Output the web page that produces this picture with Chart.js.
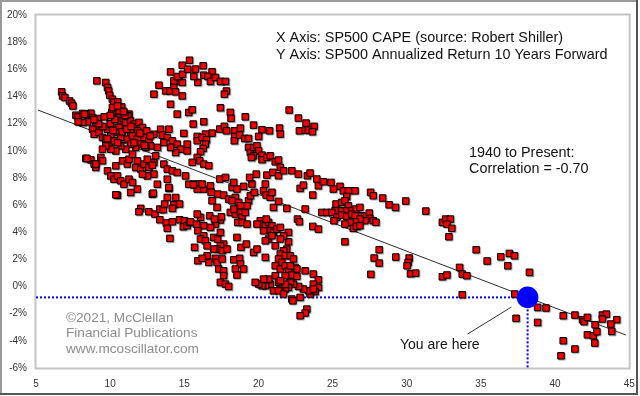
<!DOCTYPE html>
<html>
<head>
<meta charset="utf-8">
<script src="https://cdn.jsdelivr.net/npm/chart.js@4/dist/chart.umd.min.js"></script>
<style>
  html, body { margin: 0; padding: 0; background: #fff; }
  #wrap { width: 640px; height: 396px; }
</style>
</head>
<body>
<div id="wrap"><canvas id="capeChart" width="640" height="396"></canvas></div>
<script>
// CAPE (x) vs annualized 10-year forward return in % (y)
const lowCapePoints = [
  [6.73,14.34],[6.79,14.04],[6.95,13.92],[7.26,13.67],[7.4,13.5],[7.49,13.3],[7.69,12.62],[7.84,12.5],[8.14,12.75],
  [8.47,12.7],[8.7,12.77],[8.81,12.45],[8.47,12.13],[8.14,12.09],[7.84,12.13],[8.36,12.72],[8.25,12.7],
  [9.1,15.15],[9.7,15.03],[9.82,14.66],[9.9,14.41],[9.97,14.09],[10.15,13.8],[10.24,13.58],[10.51,13.6],[10.78,13.23],
  [10.11,12.82],[10.6,12.94],[10.93,12.82],[11.27,12.7],[10.15,13.19],[10.49,13.31],
  [9.15,12.38],[9.03,11.83],[8.81,11.59],[8.92,11.22],[9.25,11.35],[9.48,10.98],[9.82,11.59],[10.15,11.72],[10.6,12.45],
  [10.71,12.2],[10.89,12.38],[11.05,12.09],[11.2,12.57],[11.38,12.2],[11.6,11.96],[11.94,12.09],[12.17,11.72],[12.46,11.47],
  [11.83,11.47],[11.38,11.35],[10.93,11.59],[10.6,11.72],[10.38,11.35],[10.04,11.1],[9.7,10.86],[9.93,10.49],[10.26,10.73],
  [10.71,10.98],[11.16,10.86],[11.5,11.1],[11.83,10.86],[12.28,10.98],[12.61,10.73],[12.95,11.22],[13.4,11.59],[13.96,11.59],
  [13.51,11.15],[13.85,10.98],[14.19,10.73],[14.52,10.49],[14.97,11.28],[15.19,10.49],[14.74,10.12],[14.41,9.88],[15.19,9.99],
  [14.07,10.25],[13.62,10.61],[13.18,10.25],[12.73,10.36],[12.39,10.25],[12.06,10.49],[11.72,10.25],[11.38,10.49],[11.05,10.12],
  [10.71,10.36],[10.38,9.99],[10.04,10.12],[9.7,10.36],[9.48,10.12],
  [9.5,11.8],[10.0,12.0],[10.3,12.3],[10.8,11.4],[11.1,11.6],[11.6,10.6],[12.3,10.4],[10.5,10.6],[9.8,10.9],[11.0,12.6],
  [10.2,11.5],[12.7,11.1],[12.0,11.3],[11.4,11.8],[9.2,12.0],[8.9,12.3],[9.6,12.5],[10.9,12.9],[10.0,12.6],
  [8.36,9.44],[8.7,9.33],[8.92,9.02],[9.03,8.77],[9.37,9.51],[9.48,9.26],[9.82,8.52],[10.04,8.15],[10.26,7.91],[10.49,8.15],
  [10.71,7.79],[10.93,7.54],[11.27,7.91],[11.5,7.67],[11.83,7.18],[11.38,6.93],[10.49,6.73],[10.38,8.89],[10.83,9.26],
  [11.16,9.02],[11.27,9.38],[11.5,9.75],[11.83,9.26],[11.72,8.77],[12.06,8.65],[12.28,9.02],[12.5,9.38],[12.61,8.77],
  [12.95,8.28],[12.95,9.14],[13.06,9.63],[12.5,8.15],[12.17,8.28],[12.84,6.81],[13.18,7.54],[8.43,9.44],[9.03,9.02],
  [10.38,6.76],[12.91,6.88],[13.96,7.23],[12.84,8.94],
  [13.29,14.83],[13.74,14.41],[14.02,14.41],[14.29,14.78],[14.41,14.34],[14.63,15.15],[14.86,15.03],[14.86,14.04],
  [12.95,14.17],[14.07,13.43],[14.52,12.7],[15.3,12.82],[13.62,9.02],[13.85,8.65],[14.19,8.52],[14.52,8.4],[13.85,7.91],
  [15.08,8.15],[15.3,7.54],[13.96,7.3],[13.85,6.56],[14.41,6.56],
  [12.06,5.76],[11.94,5.51],[12.61,5.51],[13.02,5.34],[13.35,5.71],[13.58,5.66],[13.67,6.08],[14.29,6.02],[14.68,6.08],
  [14.19,5.76],[13.35,4.92],[13.78,4.68],[14.19,4.77],[13.85,4.29],[14.03,3.55],[14.68,4.92],[15.01,4.85],[14.93,4.4],
  [15.19,4.48],[15.35,4.73],
  [14.07,15.81],[14.29,15.15],[14.52,15.47],[14.88,15.64],[14.86,16.3],[15.35,16.67],[15.23,16.01]
];

const midCapePoints = [
  [16.27,16.26],[15.75,16.02],[16.31,15.57],[16.87,15.82],[16.58,15.48],[16.76,15.11],[17.1,15.4],[17.43,15.11],[17.77,15.11],
  [17.84,14.4],[17.7,14.17],[15.91,15.04],[15.64,15.48],[17.43,13.17],[18.1,12.83],[18.15,12.39],[15.53,13.02],[16.31,12.14],
  [15.6,11.97],[19.11,12.5],[19.67,11.89],[20.24,11.55],[20.75,11.47],[20.01,11.06],[21.42,11.67],[21.47,11.23],[22.07,13.0],
  [22.69,12.41],[23.21,12.04],[23.75,11.8],[22.76,11.47],[23.15,11.52],[23.37,11.52],[23.64,11.4],[17.39,11.6],[17.7,11.8],
  [17.84,11.47],[18.37,11.47],[18.78,11.67],[18.39,11.06],[18.37,10.74],[18.73,11.16],[19.07,10.91],[19.33,10.91],[16.87,11.3],
  [15.87,11.06],[15.87,10.74],[16.42,11.23],[16.2,10.99],[16.49,10.81],[16.42,10.49],[16.27,10.18],[16.09,9.93],[15.87,9.51],
  [16.04,9.26],[16.31,9.02],[16.65,8.9],[15.53,9.15],[19.33,10.25],[19.45,9.88],[19.67,10.25],[19.9,10.37],[20.01,10.0],
  [19.67,9.63],[19.52,9.51],[20.24,9.68],[20.24,9.34],[20.57,9.51],[20.79,9.63],[21.13,9.19],[21.35,9.32],[21.47,8.78],[23.3,8.16],
  [15.64,7.55],[15.97,7.55],[15.87,7.18],[16.31,7.18],[16.2,7.55],[16.76,7.42],[16.81,6.94],[16.87,6.32],[17.21,5.83],
  [17.25,6.81],[17.65,6.74],[17.39,7.92],[17.77,8.04],[18.22,7.3],[18.33,7.67],[18.55,7.18],[19.0,7.38],[17.99,6.44],
  [18.44,6.57],[18.22,6.32],[18.66,6.2],[18.78,5.95],[19.33,6.32],[19.45,6.69],[19.72,6.94],[19.56,7.55],[19.4,8.04],
  [19.85,8.28],[20.46,7.55],[20.34,7.05],[20.52,6.74],[20.79,6.57],[20.91,6.94],[21.35,6.27],[21.01,5.83],[21.91,5.76],
  [20.57,8.21],[20.97,8.41],[21.35,8.16],[21.69,8.53],[22.25,8.53],[22.69,8.28],[23.48,8.36],[22.81,7.23],[23.03,7.47],
  [23.66,6.74],[23.15,5.71],[23.93,7.92],[24.04,7.42],[24.38,7.72],[24.27,5.46],[24.6,5.46],[22.63,4.97],[22.76,4.77],
  [23.66,4.43],[24.04,4.23],
  [15.6,7.5],[15.42,4.77],[15.82,4.6],[16.31,4.48],[15.91,4.11],[16.31,3.74],[16.09,3.5],[16.42,3.37],[16.98,3.62],
  [17.25,3.5],[17.65,3.13],[17.43,3.0],[17.21,2.76],[16.98,2.76],[17.55,2.64],[17.88,2.76],[15.69,2.89],[15.91,1.9],
  [16.54,2.27],[16.65,1.78],[17.1,2.08],[17.21,1.78],[17.55,2.03],[17.32,1.29],[17.65,1.16],[17.65,0.8],[17.43,0.31],
  [17.77,0.18],[17.99,0.01],[18.33,1.97],[18.73,2.08],[18.78,1.66],[18.44,1.29],[18.55,0.85],[19.0,1.29],[18.55,3.62],
  [18.82,2.89],[19.18,3.13],[17.43,4.9],[17.5,5.14],[18.1,5.46],[18.44,5.34],[18.78,5.46],[18.89,5.1],[19.11,5.46],
  [19.23,5.95],[17.1,4.6],[16.76,4.36],[16.71,5.21],[17.03,4.97],
  [20.12,4.85],[20.24,4.6],[20.46,4.48],[20.68,4.73],[20.91,4.48],[20.79,4.11],[21.01,3.99],[21.24,4.23],[21.47,4.36],
  [20.68,3.5],[20.91,3.74],[20.52,4.97],[19.9,4.6],[22.02,3.3],[21.91,2.76],[21.69,2.64],[21.47,2.39],[21.8,2.27],
  [22.14,2.27],[21.35,2.03],[21.58,1.78],[21.13,1.53],[21.47,1.29],[21.8,1.53],[22.02,1.16],[22.47,1.41],[22.59,1.29],
  [22.25,0.85],[22.59,0.75],[23.15,1.16],[23.7,0.92],[24.04,0.5],[23.7,0.18],[24.04,-0.06],[23.82,-0.38],[23.48,-0.55],
  [23.37,-0.31],[23.03,-0.18],[22.7,0.01],[22.36,0.18],[22.14,0.31],[22.02,-0.06],[21.8,-0.18],[21.47,0.06],[21.35,0.31],
  [21.13,0.8],[20.79,0.18],[20.46,0.06],[20.24,0.06],[20.01,0.18],[19.78,0.31],[21.01,-0.31],[21.35,-0.31],[21.69,-0.55],
  [22.25,-0.92],[22.81,-0.8],[22.32,-1.05],[23.26,-1.66],[23.15,-1.95],[22.81,-2.15],
  [16.54,3.0],[16.2,2.08],[17.43,3.99],[16.09,5.1],[15.87,5.34],[18.33,5.71],[18.6,4.73],[18.89,4.73],[19.23,4.6],
  [21.8,0.18],[23.7,-0.18],[22.14,1.53],[22.36,2.03],[21.13,3.0],[22.02,3.99],[21.69,3.74],[21.47,3.5],[20.34,4.11],
  [20.46,3.37],[19.67,2.52],[19.9,2.76],[20.46,2.15],[21.8,0.8],[21.47,0.43],[20.68,0.55],[20.34,0.55]
];

const highCapePoints = [
  [24.89,7.67],[25.05,7.18],[25.5,7.38],[25.72,7.05],[26.06,7.05],[26.51,7.05],[25.95,6.64],[25.23,6.08],[25.61,6.2],
  [25.83,6.32],[26.06,5.95],[26.22,5.58],[26.57,5.71],[26.84,5.83],[25.83,5.58],[25.5,5.58],[25.16,5.58],[24.94,5.46],
  [25.28,5.1],[25.61,5.27],[25.95,5.17],[26.28,5.34],[26.51,5.21],[26.96,5.21],[27.18,5.17],[27.47,5.41],[27.51,5.02],
  [27.18,4.85],[26.84,4.97],[26.51,4.77],[26.17,4.73],[26.39,4.29],[26.61,4.43],[26.84,4.48],[25.83,4.6],[25.09,4.85],
  [27.74,4.85],[27.92,4.73],[27.56,6.94],[27.74,6.69],[28.37,6.52],[28.81,6.02],[29.24,5.83],[29.93,6.3],[31.28,5.56],
  [32.4,4.73],[32.62,4.97],[32.94,4.97],[32.71,4.6],[33.04,4.29],[32.84,3.67],[25.83,3.3],[28.14,2.71],[27.8,2.1],
  [28.14,1.73],[29.26,2.17],[30.16,2.1],[30.09,1.78],[30.02,1.53],[27.58,0.9],[30.25,0.94],[30.6,0.99],[32.4,0.72],
  [32.71,0.85],[33.56,1.41],[33.74,0.92],[34.05,0.8],[34.68,2.71],[35.42,1.88],
  [36.34,2.19],[36.92,2.44],[37.26,2.27],[36.81,1.53],[38.27,1.05],[33.74,-0.6],[37.28,-0.55],[37.37,-2.34],[38.82,-1.53],
  [39.39,-1.58],[38.82,-2.64],[40.55,-2.15],[41.34,-2.1],[41.85,-2.44],[41.96,-2.59],[42.18,-2.27],[42.7,-2.81],[43.19,-2.1],
  [43.46,-2.03],[43.19,-2.39],[44.16,-2.44],[43.76,-2.76],[43.82,-3.3],[42.18,-3.55],[42.57,-3.62],[42.82,-3.33],
  [42.68,-4.16],[40.55,-3.99],[41.34,-4.6],[40.4,-5.1]
];

// regression line, current reading and "you are here" pointer
const fitLineEnds = [[5.13, 13.0], [44.77, -3.57]];
const currentCape = 38.15;
const currentReturn = -0.8;
const pointerEnds = [[34.1, -3.5], [37.06, -1.51]];

const xTickValues = [5, 10, 15, 20, 25, 30, 35, 40, 45];
const yTickValues = [-6, -4, -2, 0, 2, 4, 6, 8, 10, 12, 14, 16, 18, 20];

const FONT = '"Liberation Sans", Arial, sans-serif';

const toXY = function(list) {
  return list.map(function(p) { return { x: p[0], y: p[1] }; });
};

var redSquares = {
  data: toXY(lowCapePoints.concat(midCapePoints, highCapePoints)),
  pointStyle: 'rect',
  pointRadius: 4.6,
  backgroundColor: '#ff0000',
  borderColor: '#000000',
  borderWidth: 1,
  showLine: false,
  order: 2,
  shadow: true
};

var plainLine = function(pts, color, width, dash, order) {
  return {
    data: toXY(pts),
    showLine: true,
    borderColor: color,
    borderWidth: width,
    borderDash: dash,
    pointRadius: 0,
    fill: false,
    order: order
  };
};

// Draws the frame, plot border, shadows and free text
var decorations = {
  id: 'decorations',
  beforeDraw: function(chart) {
    var ctx = chart.ctx;
    ctx.save();
    ctx.fillStyle = '#ffffff';
    ctx.fillRect(0, 0, chart.width, chart.height);
    ctx.restore();
  },
  beforeDatasetsDraw: function(chart) {
    var ctx = chart.ctx;
    var a = chart.chartArea;
    ctx.save();
    ctx.strokeStyle = '#c4c4c4';
    ctx.lineWidth = 2;
    ctx.strokeRect(a.left - 0.5, a.top - 0.5, a.right - a.left + 1, a.bottom - a.top + 1);
    ctx.restore();
  },
  beforeDatasetDraw: function(chart, args) {
    if (chart.data.datasets[args.index].shadow) {
      var ctx = chart.ctx;
      ctx.save();
      ctx.shadowColor = 'rgba(0, 0, 0, 0.3)';
      ctx.shadowOffsetX = 1;
      ctx.shadowOffsetY = 1;
      ctx.shadowBlur = 1;
    }
  },
  afterDatasetDraw: function(chart, args) {
    if (chart.data.datasets[args.index].shadow) {
      chart.ctx.restore();
    }
  },
  afterDraw: function(chart) {
    var ctx = chart.ctx;
    ctx.save();

    // outer frame
    ctx.lineWidth = 2;
    ctx.strokeStyle = '#9a9a9a';
    ctx.beginPath();
    ctx.moveTo(0, 1); ctx.lineTo(638, 1);
    ctx.moveTo(1, 0); ctx.lineTo(1, 395);
    ctx.stroke();
    ctx.strokeStyle = '#555555';
    ctx.beginPath();
    ctx.moveTo(637, 0); ctx.lineTo(637, 395);
    ctx.moveTo(0, 394); ctx.lineTo(638, 394);
    ctx.stroke();

    ctx.font = '14.4px ' + FONT;
    ctx.textAlign = 'left';
    ctx.textBaseline = 'alphabetic';
    ctx.fillStyle = '#111111';
    ctx.fillText('X Axis: SP500 CAPE (source: Robert Shiller)', 276, 42);
    ctx.fillText('Y Axis: SP500 Annualized Return 10 Years Forward', 276, 58.5);
    ctx.fillText('1940 to Present:', 469, 156.5);
    ctx.fillText('Correlation = -0.70', 469, 172.5);
    ctx.font = '14px ' + FONT;
    ctx.fillText('You are here', 400, 349);

    ctx.font = '13.6px ' + FONT;
    ctx.fillStyle = '#8c8c8c';
    ctx.fillText('\u00A92021, McClellan', 66, 321.5);
    ctx.fillText('Financial Publications', 66, 337);
    ctx.fillText('www.mcoscillator.com', 66, 352.5);
    ctx.restore();
  }
};

var tickFont = { family: FONT, size: 10 };

var capeChart = new Chart(document.getElementById('capeChart').getContext('2d'), {
  type: 'scatter',
  data: {
    datasets: [
      plainLine(fitLineEnds, '#2b2b2b', 1, [], 5),
      plainLine([[5, currentReturn], [currentCape, currentReturn]], '#0000ff', 2, [2, 2], 4),
      plainLine([[currentCape, currentReturn], [currentCape, -6]], '#0000ff', 2, [2, 2], 4),
      plainLine(pointerEnds, '#333333', 1, [], 4),
      redSquares,
      {
        data: [{ x: currentCape, y: currentReturn }],
        pointStyle: 'circle',
        pointRadius: 10.8,
        backgroundColor: '#0000ff',
        borderColor: '#0000ff',
        borderWidth: 0,
        showLine: false,
        order: 1
      }
    ]
  },
  options: {
    responsive: false,
    animation: false,
    events: [],
    layout: { padding: { top: 15, right: 10, left: 0, bottom: 0 } },
    plugins: {
      legend: { display: false },
      tooltip: { enabled: false }
    },
    scales: {
      x: {
        type: 'linear',
        min: 5,
        max: 45,
        afterBuildTicks: function(scale) {
          scale.ticks = xTickValues.map(function(v) { return { value: v }; });
        },
        afterFit: function(scale) {
          scale.height = 28;
          scale.paddingLeft = 0;
          scale.paddingRight = 0;
        },
        grid: { display: false, drawTicks: false },
        border: { display: false },
        ticks: { font: tickFont, color: '#333333', padding: 10, maxRotation: 0, autoSkip: false }
      },
      y: {
        type: 'linear',
        min: -6,
        max: 20,
        afterBuildTicks: function(scale) {
          scale.ticks = yTickValues.map(function(v) { return { value: v }; });
        },
        afterFit: function(scale) {
          scale.width = 36;
          scale.paddingTop = 0;
          scale.paddingBottom = 0;
        },
        grid: { display: false, drawTicks: false },
        border: { display: false },
        ticks: {
          font: tickFont,
          color: '#333333',
          padding: 9,
          autoSkip: false,
          callback: function(v) { return v + '%'; }
        }
      }
    }
  },
  plugins: [decorations]
});
</script>
</body>
</html>
